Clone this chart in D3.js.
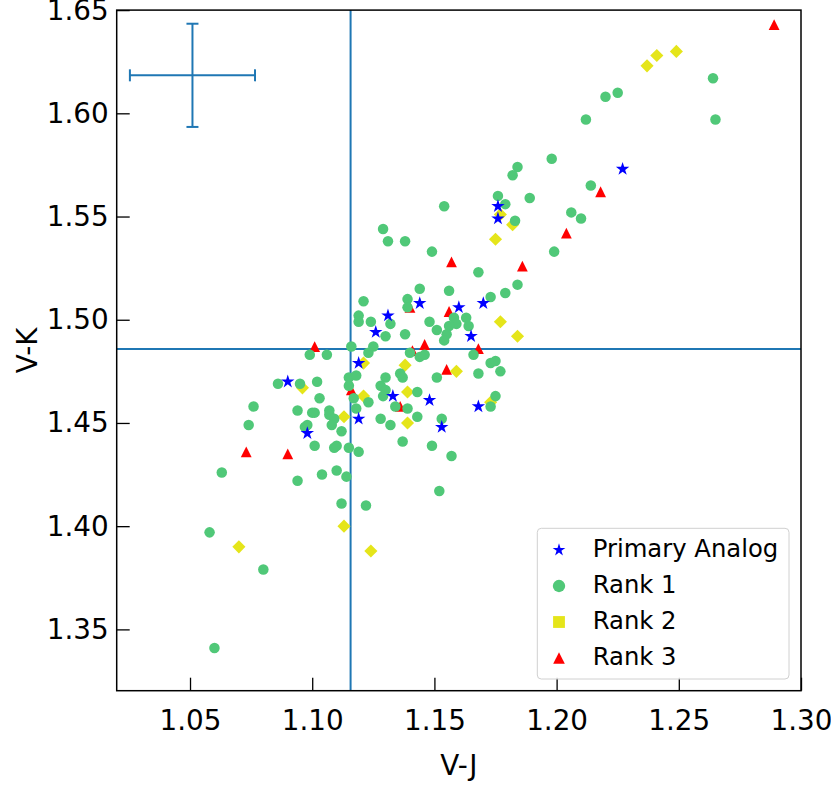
<!DOCTYPE html>
<html>
<head>
<meta charset="utf-8">
<script src="https://cdn.jsdelivr.net/npm/d3@7"></script>
<style>
  body { margin: 0; background: #fff; }
  svg { font-family: "DejaVu Sans", sans-serif; }
</style>
</head>
<body>
<svg width="831" height="794"></svg>
<script>
// V-J, V-K pairs
var primaryAnalog = [
    [1.227, 1.573], [1.176, 1.555], [1.176, 1.549], [1.144, 1.508], [1.160, 1.506],
    [1.170, 1.508], [1.131, 1.502], [1.126, 1.494], [1.165, 1.492], [1.119, 1.479],
    [1.090, 1.470], [1.133, 1.463], [1.148, 1.461], [1.168, 1.458], [1.119, 1.452],
    [1.153, 1.448], [1.098, 1.445]
];

var rank1 = [
    [1.264, 1.617], [1.265, 1.597], [1.212, 1.597], [1.220, 1.608], [1.225, 1.610],
    [1.198, 1.578], [1.184, 1.574], [1.182, 1.570], [1.214, 1.565], [1.189, 1.559],
    [1.176, 1.560], [1.179, 1.556], [1.206, 1.552], [1.210, 1.549], [1.183, 1.548],
    [1.199, 1.533], [1.184, 1.517], [1.179, 1.513], [1.177, 1.475],
    [1.154, 1.555], [1.129, 1.544], [1.131, 1.538], [1.138, 1.538], [1.149, 1.533],
    [1.168, 1.523], [1.144, 1.515], [1.156, 1.514], [1.173, 1.511], [1.139, 1.510],
    [1.139, 1.506], [1.124, 1.499], [1.132, 1.498], [1.148, 1.499], [1.158, 1.501],
    [1.163, 1.501], [1.164, 1.497], [1.159, 1.498], [1.156, 1.497], [1.151, 1.495],
    [1.155, 1.493], [1.154, 1.490], [1.130, 1.492], [1.138, 1.493], [1.125, 1.487],
    [1.140, 1.484], [1.144, 1.482], [1.146, 1.483], [1.166, 1.483], [1.173, 1.479],
    [1.175, 1.480], [1.168, 1.474], [1.136, 1.474], [1.137, 1.472], [1.130, 1.472],
    [1.151, 1.472], [1.128, 1.468], [1.130, 1.466], [1.129, 1.463], [1.143, 1.465],
    [1.123, 1.460], [1.134, 1.458], [1.139, 1.457], [1.175, 1.463], [1.173, 1.458],
    [1.128, 1.452], [1.132, 1.449], [1.143, 1.453], [1.153, 1.452], [1.137, 1.441],
    [1.149, 1.439], [1.157, 1.434], [1.152, 1.417],
    [1.121, 1.509], [1.119, 1.502], [1.119, 1.499], [1.116, 1.487], [1.099, 1.483],
    [1.106, 1.483], [1.123, 1.484], [1.086, 1.469], [1.095, 1.469], [1.102, 1.470],
    [1.115, 1.472], [1.118, 1.473], [1.115, 1.468], [1.117, 1.462], [1.103, 1.462],
    [1.076, 1.458], [1.118, 1.457], [1.094, 1.456], [1.100, 1.455], [1.101, 1.455],
    [1.107, 1.456], [1.107, 1.454], [1.109, 1.452], [1.074, 1.449], [1.097, 1.448],
    [1.098, 1.449], [1.108, 1.449], [1.112, 1.446],
    [1.101, 1.439], [1.109, 1.438], [1.110, 1.439], [1.115, 1.438], [1.119, 1.436],
    [1.063, 1.426], [1.094, 1.422], [1.104, 1.425], [1.110, 1.427], [1.114, 1.424],
    [1.112, 1.411], [1.122, 1.410], [1.058, 1.397], [1.080, 1.379], [1.060, 1.341]
];

var rank2 = [
    [1.237, 1.623], [1.241, 1.628], [1.249, 1.630], [1.177, 1.551], [1.182, 1.546],
    [1.175, 1.539], [1.177, 1.499], [1.184, 1.492], [1.138, 1.478], [1.159, 1.475],
    [1.121, 1.479], [1.096, 1.467], [1.139, 1.465], [1.121, 1.463], [1.173, 1.460],
    [1.113, 1.453], [1.139, 1.450], [1.113, 1.400], [1.124, 1.388], [1.070, 1.390]
];

var rank3 = [
    [1.289, 1.643], [1.218, 1.562], [1.204, 1.542], [1.186, 1.526], [1.157, 1.528],
    [1.140, 1.506], [1.156, 1.504], [1.146, 1.488], [1.141, 1.485], [1.168, 1.486],
    [1.101, 1.487], [1.155, 1.476], [1.116, 1.466], [1.136, 1.458], [1.073, 1.436],
    [1.090, 1.435]
];

var xTicks = [1.05, 1.10, 1.15, 1.20, 1.25, 1.30];
var yTicks = [1.35, 1.40, 1.45, 1.50, 1.55, 1.60, 1.65];

// reference lines and the typical error bar
var refVJ = 1.1157;
var refVK = 1.4858;
var errCenter = [1.051, 1.6184];
var errSize = [0.0256, 0.025];

var legendLabels = ["Primary Analog", "Rank 1", "Rank 2", "Rank 3"];

var svg = d3.select("svg"),
    padLeft = 116.7, padTop = 10.1, padRight = 801, padBottom = 690.7;

var x = d3.scaleLinear().domain([1.02, 1.30]).range([padLeft, padRight]);
var y = d3.scaleLinear().domain([1.3203, 1.65]).range([padBottom, padTop]);

//axes with inward ticks
var xAxis = svg.append("g")
    .attr("transform", "translate(0," + padBottom + ")")
    .call(d3.axisBottom(x).tickValues(xTicks).tickFormat(d3.format(".2f"))
        .tickSizeInner(-13).tickSizeOuter(0).tickPadding(20));
var yAxis = svg.append("g")
    .attr("transform", "translate(" + padLeft + ",0)")
    .call(d3.axisLeft(y).tickValues(yTicks).tickFormat(d3.format(".2f"))
        .tickSizeInner(-13).tickSizeOuter(0).tickPadding(8));

[xAxis, yAxis].forEach(function (g) {
    g.select(".domain").remove();
    g.selectAll(".tick line").attr("stroke", "#000").attr("stroke-width", 1.3);
    g.selectAll(".tick text").attr("fill", "#000")
        .style("font-size", "27.8px").style("font-family", "DejaVu Sans");
});

var plot = svg.append("g");

//reference lines
plot.append("line")
    .attr("x1", x(refVJ)).attr("x2", x(refVJ))
    .attr("y1", y.range()[0]).attr("y2", y.range()[1])
    .attr("stroke", "#1f77b4").attr("stroke-width", 2);
plot.append("line")
    .attr("x1", x.range()[0]).attr("x2", x.range()[1])
    .attr("y1", y(refVK)).attr("y2", y(refVK))
    .attr("stroke", "#1f77b4").attr("stroke-width", 2);

//error bar cross
var eb = plot.append("g").attr("stroke", "#1f77b4").attr("stroke-width", 2);
eb.append("line")
    .attr("x1", x(errCenter[0] - errSize[0])).attr("x2", x(errCenter[0] + errSize[0]))
    .attr("y1", y(errCenter[1])).attr("y2", y(errCenter[1]));
eb.append("line")
    .attr("x1", x(errCenter[0])).attr("x2", x(errCenter[0]))
    .attr("y1", y(errCenter[1] - errSize[1])).attr("y2", y(errCenter[1] + errSize[1]));
[-1, 1].forEach(function (s) {
    eb.append("line")
        .attr("x1", x(errCenter[0] + s * errSize[0])).attr("x2", x(errCenter[0] + s * errSize[0]))
        .attr("y1", y(errCenter[1]) - 6).attr("y2", y(errCenter[1]) + 6);
    eb.append("line")
        .attr("x1", x(errCenter[0]) - 6).attr("x2", x(errCenter[0]) + 6)
        .attr("y1", y(errCenter[1] + s * errSize[1])).attr("y2", y(errCenter[1] + s * errSize[1]));
});

var triPath = "M0,-5.4L5.4,5.4L-5.4,5.4Z";
var circle = d3.symbol().type(d3.symbolCircle).size(87)();
var star = d3.symbol().type(d3.symbolStar).size(56)();
var square = d3.symbol().type(d3.symbolSquare).size(86)();

function drawSeries(data, path, color, rotate) {
    plot.append("g").selectAll("path")
        .data(data)
        .enter().append("path")
        .attr("d", path)
        .attr("fill", color)
        .attr("transform", function (d) {
            return "translate(" + x(d[0]) + "," + y(d[1]) + ")" + (rotate ? " rotate(45)" : "");
        });
}

drawSeries(rank3, triPath, "#ff0000", false);
drawSeries(rank2, square, "#e5e51a", true);
drawSeries(rank1, circle, "#50c878", false);
drawSeries(primaryAnalog, star, "#0000ff", false);

//frame
svg.append("rect")
    .attr("x", padLeft).attr("y", padTop)
    .attr("width", padRight - padLeft).attr("height", padBottom - padTop)
    .attr("fill", "none").attr("stroke", "#000").attr("stroke-width", 1.5);

//axis labels
svg.append("text")
    .attr("x", (padLeft + padRight) / 2).attr("y", 775)
    .attr("text-anchor", "middle")
    .style("font-size", "27.8px")
    .text("V-J");
svg.append("text")
    .attr("transform", "translate(37," + ((padTop + padBottom) / 2) + ") rotate(-90)")
    .attr("text-anchor", "middle")
    .style("font-size", "27.8px")
    .text("V-K");

//legend
var legend = svg.append("g");
legend.append("rect")
    .attr("x", 537.3).attr("y", 528.3)
    .attr("width", 251.7).attr("height", 150.7)
    .attr("rx", 4)
    .attr("fill", "#fff").attr("fill-opacity", 0.8)
    .attr("stroke", "#d0d0d0").attr("stroke-width", 1);

var legendMarks = [
    { path: d3.symbol().type(d3.symbolStar).size(50)(), color: "#0000ff" },
    { path: d3.symbol().type(d3.symbolCircle).size(120)(), color: "#50c878" },
    { path: d3.symbol().type(d3.symbolSquare).size(140)(), color: "#e5e51a" },
    { path: "M0,-5.8L5.8,5.8L-5.8,5.8Z", color: "#ff0000" }
];

legendLabels.forEach(function (lab, i) {
    var ry = 550 + i * 36;
    legend.append("path")
        .attr("d", legendMarks[i].path)
        .attr("fill", legendMarks[i].color)
        .attr("transform", "translate(559," + ry + ")");
    legend.append("text")
        .attr("x", 592.7).attr("y", ry + 7)
        .style("font-size", "24.3px")
        .text(lab);
});
</script>
</body>
</html>
